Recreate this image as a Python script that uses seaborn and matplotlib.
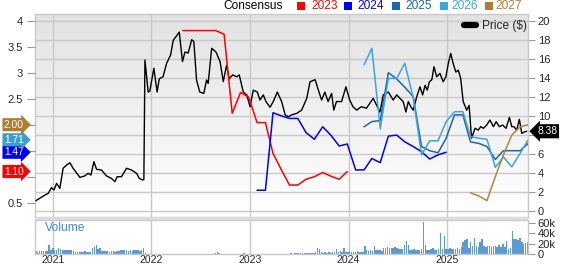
import numpy as np
import pandas as pd
import matplotlib
matplotlib.use("Agg")
import matplotlib.pyplot as plt
import matplotlib.dates as mdates
from matplotlib.colors import LinearSegmentedColormap
from matplotlib.lines import Line2D
from matplotlib.patches import Rectangle
import seaborn as sns

sns.set_style("white")
plt.rcParams['font.family'] = ['Liberation Sans', 'DejaVu Sans']

# ---------------- data ----------------
price_dates = [
    "2020-10-30", "2020-12-03", "2020-12-15", "2020-12-27",
    "2021-01-05", "2021-01-15", "2021-01-27", "2021-02-08", "2021-02-21", "2021-03-05", "2021-03-17",
    "2021-04-11", "2021-04-29", "2021-05-12", "2021-05-22", "2021-06-02", "2021-06-12", "2021-06-30",
    "2021-07-19", "2021-08-06", "2021-08-19", "2021-08-27", "2021-09-12", "2021-10-01", "2021-10-19",
    "2021-11-07", "2021-11-17", "2021-11-29", "2021-12-04", "2021-12-08", "2021-12-20", "2021-12-26",
    "2022-01-10", "2022-01-22", "2022-01-30", "2022-02-13", "2022-02-26", "2022-03-13", "2022-03-23",
    "2022-04-04", "2022-04-14", "2022-04-26", "2022-05-05", "2022-05-17", "2022-05-30", "2022-06-07",
    "2022-06-17", "2022-06-29", "2022-07-14", "2022-07-24", "2022-07-30", "2022-08-12", "2022-08-28",
    "2022-09-12", "2022-09-24", "2022-10-06", "2022-10-16", "2022-10-29", "2022-11-13", "2022-11-22",
    "2022-12-07", "2022-12-20",
    "2023-01-01", "2023-01-13", "2023-01-28", "2023-02-07", "2023-02-19", "2023-03-01", "2023-03-16",
    "2023-03-28", "2023-04-12", "2023-04-28", "2023-05-11", "2023-05-23", "2023-06-04", "2023-06-23",
    "2023-07-11", "2023-07-30", "2023-08-11", "2023-08-30", "2023-09-11", "2023-09-23", "2023-10-05",
    "2023-10-17", "2023-10-30", "2023-11-07", "2023-11-17", "2023-12-06", "2023-12-22",
    "2024-01-05", "2024-01-17", "2024-01-31", "2024-02-17", "2024-03-07", "2024-04-01", "2024-04-26",
    "2024-05-08", "2024-05-27", "2024-06-14", "2024-06-27", "2024-07-09", "2024-07-21", "2024-07-31",
    "2024-08-09", "2024-08-18", "2024-08-27", "2024-09-09", "2024-09-21", "2024-10-01", "2024-10-10",
    "2024-10-18", "2024-10-26", "2024-11-04", "2024-11-12", "2024-11-22", "2024-12-04", "2024-12-16",
    "2024-12-26",
    "2025-01-04", "2025-01-13", "2025-01-22", "2025-02-01", "2025-02-10", "2025-02-19", "2025-02-28",
    "2025-03-13", "2025-03-22", "2025-03-31", "2025-04-13", "2025-04-25", "2025-05-04", "2025-05-14",
    "2025-05-26", "2025-06-07", "2025-06-20", "2025-06-30", "2025-07-12", "2025-07-24", "2025-08-06",
    "2025-08-18", "2025-08-27", "2025-09-04", "2025-09-14", "2025-09-24", "2025-10-03", "2025-10-15",
    "2025-10-21",
]
price_values = [
    1.08, 1.68, 1.86, 2.45,
    2.2, 2.9, 2.38, 4.49, 4.83, 5.07, 4.49, 3.54, 3.68, 3.96, 3.78, 5.18, 4.38, 4.31, 3.68, 3.43,
    3.08, 3.6, 3.6, 4.49, 4.31, 3.96, 3.43, 3.26, 3.3, 15.86, 12.5, 12.6,
    15.0, 12.5, 13.9, 14.1, 15.5, 16.4, 17.96, 18.4, 18.8, 15.7, 16.7, 16.6, 18.0, 17.8, 13.76,
    12.5, 12.36, 13.76, 13.4, 17.1, 16.7, 15.7, 13.6, 15.3, 13.9, 14.3, 14.1, 14.3, 12.5, 12.2,
    10.96, 12.7, 12.5, 11.66, 12.2, 11.5, 10.9, 11.5, 12.5, 11.5, 10.1, 9.9, 10.1, 10.26, 10.6,
    11.84, 13.58, 13.8, 12.7, 11.66, 12.5, 11.5, 12.36, 10.6, 11.5, 11.5, 13.05,
    11.66, 10.96, 10.6, 10.96, 10.8, 11.84, 10.4, 12.2, 12.5, 11.66, 12.2, 11.84, 11.5, 10.4, 11.5,
    10.96, 10.6, 12.0, 13.05, 12.2, 13.2, 12.7, 13.58, 13.8, 15.16, 14.1, 14.46, 13.58, 14.1,
    15.5, 16.56, 15.5, 14.6, 14.8, 13.9, 11.5, 10.6, 11.1, 7.64, 8.69, 8.5, 8.86, 8.69, 9.03,
    9.56, 8.86, 9.38, 8.86, 9.03, 8.69, 9.84, 8.86, 8.86, 8.5, 9.63, 8.16, 8.33, 8.38,
]
price_ticks = [0, 2, 4, 6, 8, 10, 12, 14, 16, 18, 20]
price_tick_labels = ["0", "2", "4", "6", "", "10", "12", "14", "16", "18", "20"]

# consensus EPS (monthly), first month of each series
eps_2023_start = "2022-04"
eps_2023 = [3.81, 3.81, 3.81, 3.81, 3.81, 3.74, 2.22, 2.62, 2.53, 2.04, 2.04, 1.45, 1.13, 0.84,
            0.84, 0.95, 1.00, 1.08, 1.01, 0.95, 1.10]
eps_2024_start = "2023-01"
eps_2024 = [0.74, 0.74, 2.23, 2.17, 2.12, 2.12, 1.85, 1.72, 1.96, 1.80, 1.59, 1.63, 1.13, 1.13,
            1.35, 1.27, 1.78, 1.80, 1.67, 1.58, 1.48, 1.34, 1.42, 1.47]
eps_2025_start = "2024-02"
eps_2025 = [1.96, 2.06, 2.08, 3.00, 2.88, 2.72, 2.54, 1.58, 1.50, 1.46, 1.74, 2.19, 2.19, 1.67,
            1.64, 1.58, 1.33, 1.50, 1.50, 1.50, 1.64]
eps_2026_start = "2024-02"
eps_2026 = [3.15, 3.47, 1.92, 2.89, 2.89, 3.18, 2.52, 1.42, 1.69, 1.69, 2.06, 2.25, 2.25, 1.77,
            1.74, 1.72, 1.18, 1.38, 1.19, 1.45, 1.71]
eps_2027_start = "2025-03"
eps_2027 = [0.69, 0.63, 0.54, 1.00, 1.42, 1.80, 1.96, 2.00]
eps_ticks = [0.5, 1, 1.5, 2, 2.5, 3, 3.5, 4]
eps_tick_labels = ["0.5", "", "", "", "2.5", "3", "3.5", "4"]

# weekly volume (thousands of shares), starting 2020-10-30
volume_start = "2020-10-30"
volume_2021 = [5, 4, 6, 5, 6, 5, 6, 18, 8, 11, 8, 7, 11, 9, 8, 7, 8, 7, 8, 7, 6,
               4, 4, 3, 4, 4, 5, 4, 4, 3, 11, 14, 17, 10, 12, 5, 6, 5, 5, 4, 5, 5, 4, 5, 5,
               8, 7, 8, 8, 6, 7, 6, 7, 8, 7, 6, 7, 12, 1, 0.5, 0.5, 0.5]
volume_2022 = [0.5, 0.6, 0.5, 0.4, 0.5, 0.6, 0.5, 0.5, 0.7, 0.5,
               0.4, 0.5, 0.6, 0.5, 0.5, 0.4, 0.5, 0.6, 0.5, 0.5,
               0.6, 0.5, 0.4, 0.5, 0.5, 0.6, 0.5, 0.5, 0.4, 0.5,
               0.5, 0.6, 0.8, 1.2, 3.0, 1.0, 0.6, 0.5, 0.5, 0.4,
               0.5, 0.6, 0.5, 0.5, 0.4, 0.5, 0.6, 0.8, 2.0, 0.6, 0.5, 0.5]
volume_2023 = [0.5, 0.6, 0.5, 0.5, 0.6, 0.5, 0.7, 0.5, 0.6, 0.5,
               0.6, 0.5, 0.7, 0.6, 0.8, 0.6, 0.7, 0.9, 0.7, 0.8,
               0.9, 1.0, 0.8, 1.2, 1.0, 1.3, 1.1, 1.5, 1.2, 1.6,
               1.8, 1.5, 2.0, 1.6, 3.0, 12, 9, 3, 2.5, 4,
               2.5, 3, 2, 3, 3, 10, 4, 5, 3, 12]
volume_2024_25 = [3, 4, 5, 4, 3, 4, 5, 4, 3, 4,
                  15, 7, 6, 7, 5, 15, 8, 7, 8, 6,
                  12, 11, 13, 12, 11, 12, 13, 11, 10, 9,
                  10, 18, 25, 18, 8, 7, 9, 8, 7, 8,
                  10, 61, 17, 8, 7, 9, 12, 8, 7, 9,
                  40, 9, 34, 9, 10, 12, 9, 10, 9, 11,
                  10, 14, 23, 26, 29, 12, 23, 16, 30, 15,
                  13, 22, 28, 15, 14, 16, 15, 14, 16, 15,
                  14, 18, 13, 20, 14, 24, 10, 12, 44, 28,
                  29, 27, 30, 23, 20, 21, 22]

eps_series = [
    ("2023", eps_2023_start, eps_2023, "#FF0000"),
    ("2024", eps_2024_start, eps_2024, "#0000FF"),
    ("2025", eps_2025_start, eps_2025, "#1E64B4"),
    ("2026", eps_2026_start, eps_2026, "#3AA6DC"),
    ("2027", eps_2027_start, eps_2027, "#B8843A"),
]
tag_colors = {"2023": "#FF0000", "2024": "#0000FF", "2025": "#1E64B4",
              "2026": "#3A9FD0", "2027": "#B07D2D"}

# ---------------- figure ----------------
W, H = 562, 264
fig = plt.figure(figsize=(W / 100, H / 100), dpi=100)
fig.patch.set_facecolor("white")


def frect(x0, y0, x1, y1):
    return [x0 / W, 1 - y1 / H, (x1 - x0) / W, (y1 - y0) / H]


ax = fig.add_axes(frect(35, 14, 528, 217))
axv = fig.add_axes(frect(35, 220, 528, 254))

xmin, xmax = pd.Timestamp("2020-10-27"), pd.Timestamp("2025-10-26")

# gradient background
grad = LinearSegmentedColormap.from_list("g", ["#FFFFFF", "#E3E3E3"])
ax.imshow(np.linspace(0, 1, 256).reshape(-1, 1), extent=[0, 1, 0, 1], origin="lower",
          transform=ax.transAxes, cmap=grad, aspect="auto", zorder=0)

grid_c = "#C9C9C9"
ax.set_axisbelow(True)
# price line
pdf = pd.DataFrame({"date": pd.to_datetime(price_dates), "price": price_values})
sns.lineplot(data=pdf, x="date", y="price", ax=ax, color="black", lw=1.0, zorder=3)

ax.set_xlim(xmin, xmax)
ax.set_ylim(-0.63, 20.7)
ax.set_yticks(price_ticks)
ax.set_yticklabels(price_tick_labels)
ax.grid(True, color=grid_c, lw=1.0)
ax.set_xlabel("")
ax.set_ylabel("")
ax.xaxis.set_major_locator(mdates.YearLocator())
ax.tick_params(axis="x", labelbottom=False, length=0)
for s in ax.spines.values():
    s.set_color("#C9C9C9")
    s.set_linewidth(1.0)

# EPS axis on the left
axe = ax.twinx()
# price ticks back to the right (twinx moves them left)
ax.yaxis.tick_right()
ax.yaxis.set_label_position("right")
ax.tick_params(axis="y", labelsize=8, length=5, color="#999999", pad=2,
               left=False, labelleft=False, right=True, labelright=True)
axe.yaxis.tick_left()
axe.yaxis.set_label_position("left")
axe.set_ylim(0.225, 4.129)
axe.set_yticks(eps_ticks)
axe.set_yticklabels(eps_tick_labels)
axe.tick_params(axis="y", labelsize=8, length=6, color="#999999", pad=3,
                left=True, labelleft=True, right=False, labelright=False)
for s in axe.spines.values():
    s.set_visible(False)

for name, start, vals, col in eps_series:
    dts = pd.date_range(start=start + "-01", periods=len(vals), freq="MS") + pd.Timedelta(days=26)
    edf = pd.DataFrame({"date": dts, "eps": vals})
    sns.lineplot(data=edf, x="date", y="eps", ax=axe, color=col, lw=1.1)
axe.set_xlim(xmin, xmax)
axe.set_xlabel("")
axe.set_ylabel("")

# tags on the left (consensus values shown in the reference)
order = ["2023", "2024", "2026", "2027"]
last_vals = {name: vals[-1] for name, _, vals, _ in eps_series}
for name in order:
    v = last_vals[name]
    axe.annotate(f"{v:.2f}", xy=(4 / W, v), xycoords=("figure fraction", "data"),
                 ha="left", va="center", fontsize=7.4, color="white",
                 bbox=dict(boxstyle="rarrow,pad=0.15", fc=tag_colors[name], ec="none"),
                 annotation_clip=False, zorder=10)

# price tag on the right
ax.annotate(f"{price_values[-1]:.2f}", xy=(537 / W, price_values[-1]),
            xycoords=("figure fraction", "data"), ha="left", va="center", fontsize=7.4,
            color="white", bbox=dict(boxstyle="larrow,pad=0.2", fc="black", ec="none"),
            annotation_clip=False, zorder=10)

# price legend
ax.legend(handles=[Line2D([0], [0], color="black", lw=4.5)], labels=["Price ($)"],
          loc="center left", bbox_to_anchor=(464 / W, 1 - 26 / H), bbox_transform=fig.transFigure,
          frameon=False, fontsize=8.6, handlelength=1.0, handletextpad=0.5, borderpad=0,
          borderaxespad=0)

# ---------------- volume ----------------
vol = np.array(volume_2021 + volume_2022 + volume_2023 + volume_2024_25) * 1000
vdates = pd.date_range(volume_start, periods=len(vol), freq="7D")
axv.bar(vdates, vol, width=5.5, color="#5B9BD5", linewidth=0, zorder=2)
axv.set_xlim(xmin, xmax)
axv.set_ylim(0, 65000)
axv.set_yticks([0, 20000, 40000, 60000])
axv.set_yticklabels(["0", "20k", "40k", "60k"])
axv.yaxis.tick_right()
axv.xaxis.set_major_locator(mdates.YearLocator())
axv.xaxis.set_major_formatter(mdates.DateFormatter("%Y"))
axv.tick_params(axis="x", labelsize=7.6, length=0, pad=1)
axv.tick_params(axis="y", labelsize=8, length=5, color="#999999", pad=2)
axv.grid(True, axis="x", color=grid_c, lw=1.0)
axv.set_axisbelow(True)
axv.set_facecolor("white")
for s in axv.spines.values():
    s.set_color("#C9C9C9")
    s.set_linewidth(1.0)
axv.text(45 / W, 1 - 228 / H, "Volume", transform=fig.transFigure, fontsize=8.7,
         color="#3D8FD1", va="center", ha="left")

# separator band
fig.patches.append(Rectangle((35 / W, 1 - 220 / H), 493 / W, 3 / H, transform=fig.transFigure,
                             fc="#DCDCDC", ec="none"))

# ---------------- top legend ----------------
ty = 1 - 6 / H
fig.text(223 / W, ty, "Consensus", fontsize=8.6, color="black", va="center", ha="left")
legend_items = [("2023", 297, 311), ("2024", 344, 357), ("2025", 391.5, 405),
                ("2026", 440.5, 451), ("2027", 485, 495)]
for name, sq_x, tx in legend_items:
    col = tag_colors[name] if name != "2026" else "#3AA6DC"
    fig.patches.append(Rectangle((sq_x / W, 1 - 10 / H), 8 / W, 8 / H, transform=fig.transFigure,
                                 fc=col, ec="none"))
    fig.text(tx / W, ty, name, fontsize=8.6, color=col, va="center", ha="left")

fig.savefig("out.png", dpi=100, facecolor="white")
